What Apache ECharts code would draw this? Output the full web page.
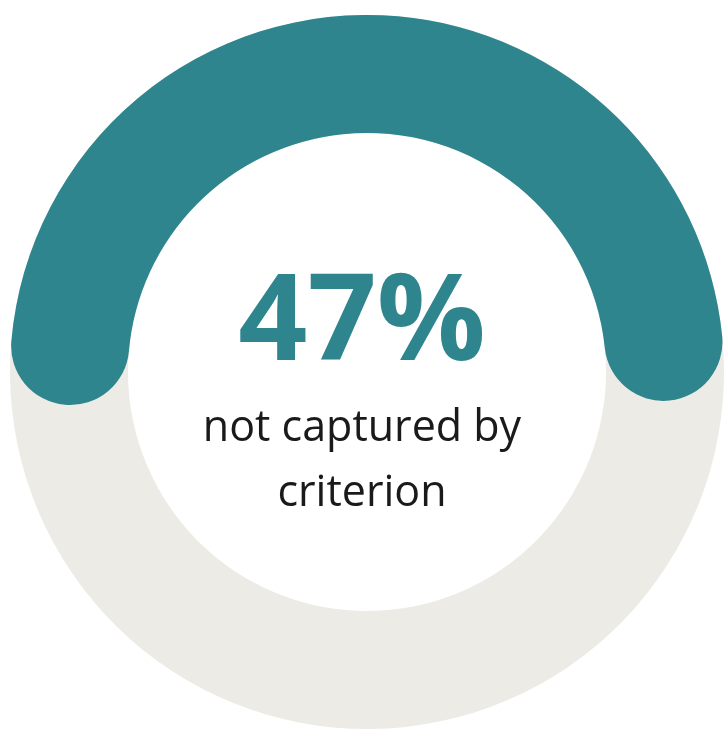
<!DOCTYPE html>
<html>
<head>
<meta charset="utf-8">
<script src="https://cdn.jsdelivr.net/npm/echarts@6/dist/echarts.min.js"></script>
<style>html,body{margin:0;padding:0;background:#fff;}#c{width:724px;height:731px;}</style>
</head>
<body>
<div id="c"></div>
<script>
const shareValue = 47;
const scaleMin = 0;
const scaleMax = 100;
const labelLines = ['not captured by', 'criterion'];

const chart = echarts.init(document.getElementById('c'));
chart.setOption({
  animation: false,
  series: [{
    type: 'gauge',
    center: [367, 372],
    radius: 357,
    startAngle: 175,
    endAngle: -185,
    min: scaleMin,
    max: scaleMax,
    clockwise: true,
    axisLine: { lineStyle: { width: 118, color: [[1, '#ecebe6']] } },
    progress: { show: true, width: 118, roundCap: true, itemStyle: { color: '#2e858d' } },
    splitLine: { show: false },
    axisTick: { show: false },
    axisLabel: { show: false },
    pointer: { show: false },
    anchor: { show: false },
    title: { show: false },
    detail: { show: false },
    data: [{ value: shareValue }]
  }],
  graphic: [{
    type: 'text', left: 'center', top: 265,
    style: {
      text: '{a|' + shareValue + '%}\n{b|' + labelLines.join('}\n{b|') + '}',
      align: 'center',
      rich: {
        a: { fontFamily: 'Open Sans', fontWeight: 'bold', fontSize: 121, fill: '#2e858d', lineHeight: 141, align: 'center' },
        b: { fontFamily: 'Open Sans', fontWeight: 'normal', fontSize: 43, fill: '#1a1a1a', lineHeight: 65, align: 'center' }
      }
    }
  }]
});
</script>
</body>
</html>
